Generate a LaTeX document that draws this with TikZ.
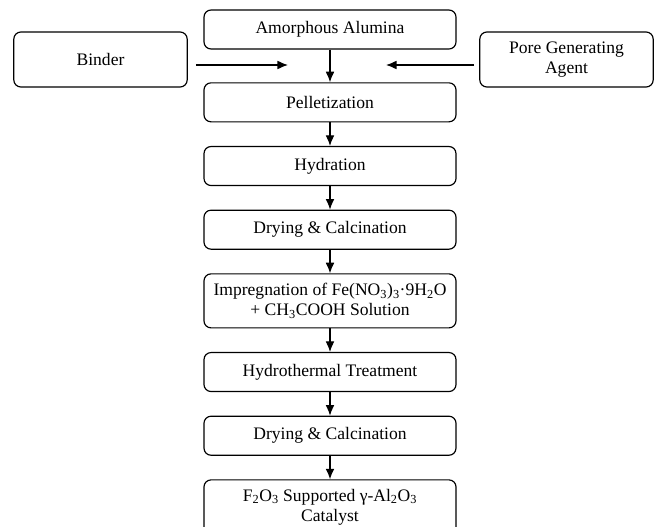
\documentclass[tikz,border=0pt]{standalone}
\usepackage{fontspec}
\setmainfont{Liberation Serif}
\usetikzlibrary{positioning, arrows.meta}

\tikzset{
  stage/.style={draw, rounded corners=6pt, line width=1pt, minimum width=7.56cm,
    minimum height=1.17cm, align=center, inner sep=2pt,
    font=\fontsize{15}{17}\selectfont},
  tall/.style={minimum height=1.62cm},
  input/.style={stage, minimum width=5.2cm, minimum height=1.65cm},
  flow/.style={-{Latex[length=9pt,width=7.5pt]}, line width=1pt},
}

\begin{document}
\begin{tikzpicture}[x=0.03cm, y=-0.03cm, node distance=0.705cm]
\useasboundingbox (0,0) rectangle (662,527);
% main column
\node[stage] (alumina) at (330,29.5) {Amorphous Alumina};
\node[stage, below=0.98cm of alumina] (pellet) {Pelletization};
\node[stage, below=of pellet] (hydration) {Hydration};
\node[stage, below=of hydration] (dry1) {Drying \& Calcination};
\node[stage, tall, below=of dry1] (impreg) {Impregnation of Fe(NO\textsubscript{3})\textsubscript{3}·9H\textsubscript{2}O\\+ CH\textsubscript{3}COOH Solution};
\node[stage, below=of impreg] (hydro) {Hydrothermal Treatment};
\node[stage, below=of hydro] (dry2) {Drying \& Calcination};
\node[stage, tall, below=of dry2] (cat) {F\textsubscript{2}O\textsubscript{3} Supported γ-Al\textsubscript{2}O\textsubscript{3}\\Catalyst};
% side inputs
\node[input] (binder) at (100.5,59.5) {Binder};
\node[input] (pore) at (566.5,59.5) {Pore Generating\\Agent};
\coordinate (binderin) at (288,65);
\coordinate (porein) at (386,65);

\draw[flow] (alumina) -- (pellet);
\draw[flow] (pellet) -- (hydration);
\draw[flow] (hydration) -- (dry1);
\draw[flow] (dry1) -- (impreg);
\draw[flow] (impreg) -- (hydro);
\draw[flow] (hydro) -- (dry2);
\draw[flow] (dry2) -- (cat);
\draw[flow, shorten <=0.24cm] (binder.east |- binderin) -- (binderin);
\draw[flow, shorten <=0.15cm] (pore.west |- porein) -- (porein);
\end{tikzpicture}
\end{document}
